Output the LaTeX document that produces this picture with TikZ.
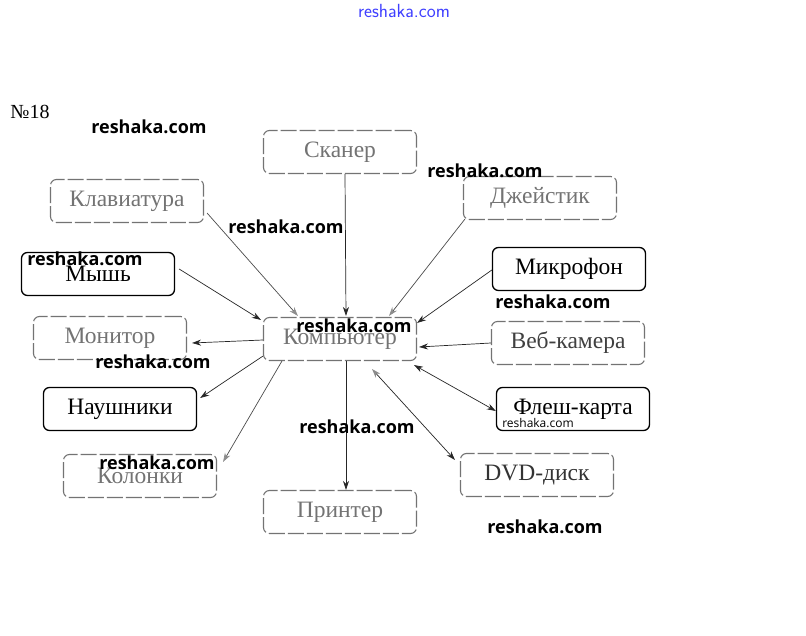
\documentclass[tikz,border=0pt]{standalone}
\usepackage{fontspec}
\setmainfont{Liberation Serif}
\newfontfamily\wmfont{Open Sans}
\usetikzlibrary{arrows.meta,calc}
\tikzset{
  boxbase/.style={rounded corners=6pt, minimum width=153pt, minimum height=43pt, inner sep=0pt, font=\fontsize{23.5}{25}\selectfont},
  darkbox/.style={boxbase, draw=black, line width=1.3pt, text=black},
  fadebox/.style={boxbase, draw=black!55, line width=1.1pt, dash pattern=on 16pt off 3pt, text=black!55},
  conn/.style={line width=0.7pt, draw=black!85, -{Stealth[length=9pt,width=6pt]}},
  gconn/.style={line width=0.7pt, draw=black!70, -{Stealth[length=9pt,width=6pt,color=black!45]}},
  bconn/.style={line width=0.7pt, draw=black!85, {Stealth[length=9pt,width=6pt]}-{Stealth[length=9pt,width=6pt]}},
  wm/.style={font=\wmfont\bfseries\fontsize{18}{19}\selectfont, text=black, inner sep=0pt},
}
\begin{document}
\begin{tikzpicture}[x=1pt,y=-1pt]
\useasboundingbox (0,0) rectangle (806,636);
\fill[white] (0,0) rectangle (806,636);

\node[font=\fontsize{20}{22}\selectfont, inner sep=0pt] (num) at (30,112) {№18};

\node[fadebox] (scan)  at (340,152) {Сканер};
\node[fadebox] (kbd)   at (127,201) {Клавиатура};
\node[fadebox] (joy)   at (540,198) {Джейстик};
\node[darkbox] (mouse) at (98,274)  {Мышь};
\node[darkbox] (mic)   at (569,269) {Микрофон};
\node[fadebox] (mon)   at (110,338) {Монитор};
\node[fadebox] (comp)  at (340,339) {Компьютер};
\node[fadebox, text=black!75] (web) at (568,343) {Веб-камера};
\node[darkbox] (head)  at (120,409) {Наушники};
\node[darkbox] (flash) at (573,409) {Флеш-карта};
\node[fadebox] (spk)   at (140,476) {Колонки};
\node[fadebox, text=black!80] (dvd) at (537,475) {DVD-диск};
\node[fadebox] (print) at (340,512) {Принтер};

% inputs
\draw[conn]  ($(scan.south)+(5,0)$) -- ($(comp.north)+(6,-1)$);
\draw[gconn] ($(kbd.east)+(3,12)$) -- ($(comp.north west)+(35,-1)$);
\draw[conn]  ($(mouse.east)+(4,-5)$) -- ($(comp.north west)+(-2,3)$);
\draw[gconn] ($(joy.south west)+(2,-1)$) -- ($(comp.north east)+(-28,-1)$);
\draw[conn]  ($(mic.west)+(0,1)$) -- ($(comp.north east)+(0,6)$);
\draw[conn]  ($(web.west)+(0,0)$) -- ($(comp.east)+(2,8)$);
% outputs
\draw[conn]  ($(comp.west)+(0,1)$) -- ($(mon.east)+(5,5)$);
\draw[conn]  ($(comp.south west)+(0,-5)$) -- ($(head.east)+(3,-11)$);
\draw[gconn] ($(comp.south west)+(19,0)$) -- ($(spk.north east)+(6,8)$);
\draw[conn]  ($(comp.south)+(6,0)$) -- ($(print.north)+(6,0)$);
% both ways
\draw[bconn] ($(comp.south east)+(-3,4)$) -- ($(flash.west)+(0,2)$);
\draw[line width=0.7pt, draw=black!85, {Stealth[length=9pt,width=6pt,color=black!45]}-{Stealth[length=9pt,width=6pt]}] ($(comp.south)+(32,8)$) -- ($(dvd.north west)+(-5,7)$);

% watermarks
\node[font=\fontsize{19}{20}\selectfont\sffamily, text=blue!75, inner sep=0pt] (wm0) at (404,11) {reshaka.com};
\node[wm] (wm1)  at (149,127) {reshaka.com};
\node[wm] (wm2)  at (485,171) {reshaka.com};
\node[wm] (wm3)  at (286,227) {reshaka.com};
\node[wm] (wm4)  at (85,259)  {reshaka.com};
\node[wm] (wm5)  at (553,302) {reshaka.com};
\node[wm] (wm6)  at (354,326) {reshaka.com};
\node[wm] (wm7)  at (153,362) {reshaka.com};
\node[wm] (wm8)  at (357,427) {reshaka.com};
\node[wm] (wm9)  at (157,463) {reshaka.com};
\node[font=\wmfont\fontsize{12}{13}\selectfont, text=black, inner sep=0pt] (wm10) at (538,423) {reshaka.com};
\node[wm] (wm11) at (545,527) {reshaka.com};
\end{tikzpicture}
\end{document}
